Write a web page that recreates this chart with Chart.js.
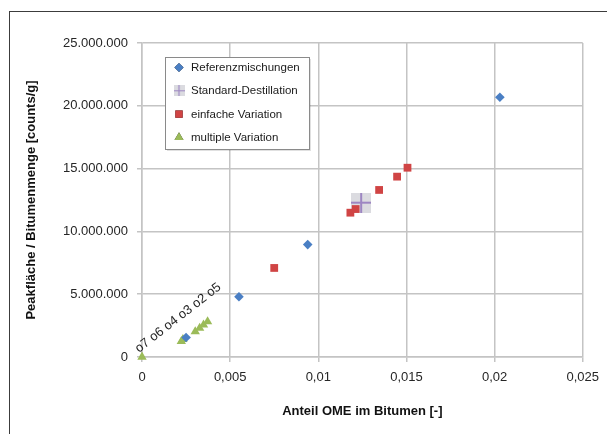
<!DOCTYPE html>
<html lang="de">
<head>
<meta charset="utf-8">
<title>Peakfläche / Bitumenmenge</title>
<script src="https://cdn.jsdelivr.net/npm/chart.js@4.4.1/dist/chart.umd.min.js"></script>
<style>
    html, body { margin: 0; padding: 0; background: #fff; overflow: hidden; }
    #wrap { position: relative; width: 607px; height: 434px; }
    #frame {
        position: absolute; left: 9px; top: 11px; width: 640px; height: 460px;
        border: 1.5px solid #3c3c3c; pointer-events: none;
    }
</style>
</head>
<body>
<div id="wrap">
    <canvas id="omeChart"></canvas>
    <div id="frame"></div>
</div>
<script>
// Messwerte: Anteil OME im Bitumen [-] gegen Peakfläche / Bitumenmenge [counts/g]
const refX = [0.0025, 0.0055, 0.0094, 0.0203];
const refY = [1550000, 4800000, 8950000, 20680000];

const stdX = [0.01243];
const stdY = [12290000];

const einfachX = [0.0075, 0.01182, 0.01212, 0.01345, 0.01447, 0.01506];
const einfachY = [7090000, 11490000, 11780000, 13300000, 14360000, 15070000];

const multiX = [0, 0.00223, 0.00232, 0.00302, 0.00327, 0.00349, 0.00372];
const multiY = [0, 1250000, 1400000, 2020000, 2300000, 2560000, 2820000];

const multiLabels = ['o7', 'o6', 'o4', 'o3', 'o2', 'o5'];

const seriesNames = ['Referenzmischungen', 'Standard-Destillation', 'einfache Variation', 'multiple Variation'];

const xTicks = [0, 0.005, 0.01, 0.015, 0.02, 0.025];
const yTicks = [0, 5000000, 10000000, 15000000, 20000000, 25000000];

const toPoints = (xs, ys) => xs.map((x, i) => ({ x, y: ys[i] }));

// "+" Marker mit grauem Hintergrundquadrat (wie Excel)
function makePlusMarker(size, lw) {
    const c = document.createElement('canvas');
    c.width = size;
    c.height = size;
    const g = c.getContext('2d');
    g.fillStyle = 'rgba(200, 200, 208, 0.65)';
    g.fillRect(0, 0, size, size);
    g.strokeStyle = '#9d86c2';
    g.lineWidth = lw;
    g.beginPath();
    g.moveTo(0, size / 2);
    g.lineTo(size, size / 2);
    g.moveTo(size / 2, 0);
    g.lineTo(size / 2, size);
    g.stroke();
    return c;
}

const plusBig = makePlusMarker(20, 2);
const plusSmall = makePlusMarker(11, 1.2);

function deNumber(v) {
    return String(Math.round(v)).replace(/\B(?=(\d{3})+(?!\d))/g, '.');
}

function deDecimal(v) {
    return String(+v.toFixed(3)).replace('.', ',');
}

// Legende innerhalb der Zeichenfläche
const innerLegend = {
    id: 'innerLegend',
    afterDatasetsDraw(chart) {
        const { ctx, chartArea } = chart;
        const bx = chartArea.left + 23;
        const by = chartArea.top + 14;
        const bw = 144;
        const bh = 92;
        ctx.save();
        ctx.fillStyle = 'rgba(0,0,0,0.12)';
        ctx.fillRect(bx + 2, by + 2, bw, bh);
        ctx.fillStyle = '#fff';
        ctx.fillRect(bx, by, bw, bh);
        ctx.strokeStyle = '#8a8a8a';
        ctx.lineWidth = 1;
        ctx.strokeRect(bx + 0.5, by + 0.5, bw, bh);

        ctx.font = '11.5px "Liberation Sans", Arial, sans-serif';
        ctx.textBaseline = 'middle';
        ctx.fillStyle = '#1a1a1a';
        const legendDs = [0, 1, 2, 3].map(i => chart.data.datasets.find(d => d.label === seriesNames[i]));
        legendDs.forEach((ds, i) => {
            const cy = by + 10.5 + i * 23.3;
            const mx = bx + 14;
            if (ds.label === 'Standard-Destillation') {
                ctx.drawImage(plusSmall, mx - 5.5, cy - 5.5);
            } else {
                Chart.helpers.drawPoint(ctx, {
                    pointStyle: ds.pointStyle,
                    radius: ds.pointStyle === 'rectRot' ? 4.6 : 5.2,
                    borderWidth: 0,
                    rotation: 0
                }, mx, cy);
                ctx.fillStyle = ds.backgroundColor;
                ctx.fill();
                ctx.fillStyle = '#1a1a1a';
            }
            ctx.fillText(ds.label, bx + 26, cy + 0.5);
        });
        ctx.restore();
    }
};

// Beschriftung der Mehrfachvariationen entlang der Diagonale
const multiLabelText = {
    id: 'multiLabelText',
    afterDatasetsDraw(chart) {
        const { ctx, scales } = chart;
        const px = scales.x.getPixelForValue(multiX[0]);
        const py = scales.y.getPixelForValue(multiY[0]);
        ctx.save();
        ctx.translate(px - 3, py - 4);
        ctx.rotate(-38 * Math.PI / 180);
        ctx.font = '13px "Liberation Sans", Arial, sans-serif';
        ctx.fillStyle = '#262626';
        ctx.textBaseline = 'alphabetic';
        ctx.fillText(multiLabels.join(' '), 0, 0);
        ctx.restore();
    }
};

const gridColor = '#c4c4c4';
const tickFont = { family: '"Liberation Sans", Arial, sans-serif', size: 13 };
const titleFont = { family: '"Liberation Sans", Arial, sans-serif', size: 13, weight: 'bold' };

const ctx = document.getElementById('omeChart').getContext('2d');

new Chart(ctx, {
    type: 'scatter',
    data: {
        datasets: [
            {
                label: seriesNames[0],
                data: toPoints(refX, refY),
                pointStyle: 'rectRot',
                pointRadius: 4.8,
                backgroundColor: '#4a7fc4',
                borderWidth: 0,
                clip: false,
                order: 0
            },
            {
                label: seriesNames[1],
                data: toPoints(stdX, stdY),
                pointStyle: plusBig,
                backgroundColor: '#9d86c2',
                clip: false,
                order: 3
            },
            {
                label: seriesNames[2],
                data: toPoints(einfachX, einfachY),
                pointStyle: 'rect',
                pointRadius: 5.5,
                backgroundColor: '#d04444',
                borderWidth: 0,
                clip: false,
                order: 1
            },
            {
                label: seriesNames[3],
                data: toPoints(multiX, multiY),
                pointStyle: 'triangle',
                pointRadius: 5.4,
                backgroundColor: '#9bbb59',
                borderWidth: 0,
                clip: false,
                order: 2
            }
        ]
    },
    options: {
        responsive: true,
        maintainAspectRatio: false,
        animation: false,
        events: [],
        layout: { padding: { top: 43, right: 24, left: 0, bottom: 0 } },
        plugins: {
            legend: { display: false },
            tooltip: { enabled: false }
        },
        scales: {
            x: {
                type: 'linear',
                min: 0,
                max: 0.025,
                afterBuildTicks: scale => { scale.ticks = xTicks.map(v => ({ value: v })); },
                afterFit: scale => { scale.height = 77; },
                ticks: {
                    callback: v => deDecimal(v),
                    font: tickFont,
                    color: '#262626',
                    padding: 8,
                    maxRotation: 0
                },
                grid: { color: gridColor, lineWidth: 1.5, tickLength: 5 },
                border: { color: gridColor, width: 1.5 },
                title: {
                    display: true,
                    text: 'Anteil OME im Bitumen [-]',
                    font: titleFont,
                    color: '#111',
                    padding: { top: 0, bottom: 15 }
                }
            },
            y: {
                type: 'linear',
                min: 0,
                max: 25000000,
                afterBuildTicks: scale => { scale.ticks = yTicks.map(v => ({ value: v })); },
                afterFit: scale => { scale.width = 142; },
                ticks: {
                    callback: v => deNumber(v),
                    font: tickFont,
                    color: '#262626',
                    padding: 9
                },
                grid: { color: gridColor, lineWidth: 1.5, tickLength: 5 },
                border: { color: gridColor, width: 1.5 },
                title: {
                    display: true,
                    text: 'Peakfläche / Bitumenmenge [counts/g]',
                    font: titleFont,
                    color: '#111',
                    padding: { top: 24, bottom: 0 }
                }
            }
        }
    },
    plugins: [multiLabelText, innerLegend]
});
</script>
</body>
</html>
